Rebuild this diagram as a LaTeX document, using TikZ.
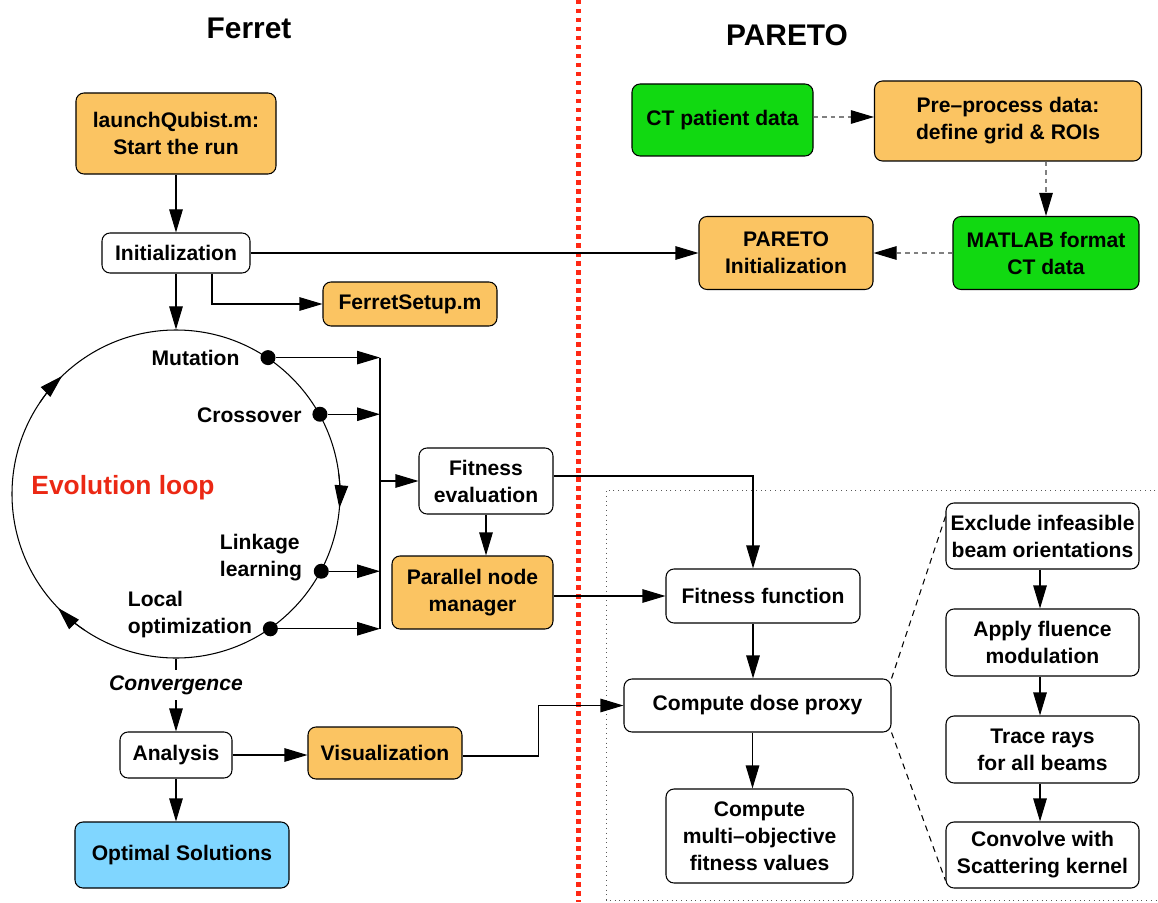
\documentclass[tikz,border=0pt]{standalone}
\usepackage{fontspec}
\setmainfont{Liberation Sans}
\usetikzlibrary{arrows.meta}
\definecolor{boxorange}{RGB}{251,196,98}
\definecolor{boxgreen}{RGB}{17,217,17}
\definecolor{boxblue}{RGB}{128,214,255}
\definecolor{loopred}{RGB}{235,40,20}
\definecolor{divred}{RGB}{255,40,20}
\begin{document}
\begin{tikzpicture}[x=0.2mm, y=0.2mm, line width=0.6pt,
    every node/.style={font=\fontsize{12}{15.4}\selectfont\bfseries},
    box/.style={draw, rounded corners=1.6mm, align=center, inner sep=0.5mm, fill=white},
    obox/.style={box, fill=boxorange},
    gbox/.style={box, fill=boxgreen},
    arr/.style={-{Triangle[length=4.6mm,width=2.7mm]}},
    darr/.style={-{Triangle[length=4.6mm,width=2.7mm,black]}, gray, dash pattern=on 0.9mm off 0.8mm},
    dot/.style={circle, fill, inner sep=0, minimum size=3mm},
    lbl/.style={inner sep=0, align=left}]
  \useasboundingbox (0,0) rectangle (1158,-902);
  % titles and divider
  \node (ferret) at (249,-28) {\fontsize{17}{20}\selectfont Ferret};
  \node (pareto) at (787,-35) {\fontsize{17}{20}\selectfont PARETO};
  \draw[divred, line width=1mm, dash pattern=on 0.9mm off 0.9mm] (578,0) -- (578,-902);
  \draw[gray!70!black, line width=0.5pt, dash pattern=on 0.5pt off 2.2pt]
    (1160,-490) -- (606,-490) -- (606,-900) -- (1160,-900);

  % Ferret side
  \node [obox, minimum width=40mm, minimum height=16.2mm] (launch) at (176,-133.5) {launchQubist.m:\\Start the run};
  \node [box, minimum width=29.6mm, minimum height=8mm] (init) at (176,-253) {Initialization};
  \node [obox, minimum width=34.8mm, minimum height=8.8mm] (fsetup) at (410,-304) {FerretSetup.m};
  \node [draw, circle, minimum size=65.6mm, inner sep=0] (loop) at (176,-494) {};
  \node [text=loopred] (evo) at (123,-488) {\fontsize{15}{18}\selectfont Evolution loop};
  \node [dot] (mutd) at (loop.56) {};
  \node [dot] (crossd) at (loop.29) {};
  \node [dot] (linkd) at (loop.-28) {};
  \node [dot] (locd) at (loop.-55) {};
  \node [lbl, anchor=east] (mutl) at (240,-358) {Mutation};
  \node [lbl, anchor=east] (crossl) at (302,-415) {Crossover};
  \node [lbl] (linkl) at (261,-558) {Linkage\\learning};
  \node [lbl] (locl) at (190,-615) {Local\\optimization};
  \coordinate (bus) at (380,-481);
  \node [box, minimum width=26.8mm, minimum height=13.2mm] (fe) at (486,-481) {Fitness\\evaluation};
  \node [obox, minimum width=32.2mm, minimum height=14.6mm] (pnm) at (472.5,-592.5) {Parallel node\\manager};
  \node [inner sep=1mm] (conv) at (176,-685) {\itshape Convergence};
  \node [box, minimum width=22.4mm, minimum height=9.2mm] (ana) at (176,-755) {Analysis};
  \node [box, fill=boxblue, minimum width=42.8mm, minimum height=13.2mm] (opt) at (182,-855) {Optimal Solutions};
  \node [obox, minimum width=30.8mm, minimum height=10.4mm] (vis) at (385,-753) {Visualization};

  % PARETO side
  \node [gbox, minimum width=36.2mm, minimum height=14.4mm] (ct) at (722.5,-120) {CT patient data};
  \node [obox, minimum width=53.4mm, minimum height=16mm] (pre) at (1008,-121) {Pre--process data:\\define grid \& ROIs};
  \node [obox, minimum width=34.8mm, minimum height=14.6mm] (pinit) at (786,-253) {PARETO\\Initialization};
  \node [gbox, minimum width=37.2mm, minimum height=14.6mm] (mat) at (1046,-253) {MATLAB format\\CT data};
  \node [box, minimum width=38.8mm, minimum height=10.8mm] (ff) at (763,-596) {Fitness function};
  \node [box, minimum width=53.4mm, minimum height=10.6mm] (cdp) at (757.5,-705.5) {Compute dose proxy};
  \node [box, minimum width=37.4mm, minimum height=18.8mm] (multi) at (759.5,-836) {Compute\\multi--objective\\fitness values};
  \node [box, minimum width=38.6mm, minimum height=13.2mm] (excl) at (1042.5,-536) {Exclude infeasible\\beam orientations};
  \node [box, minimum width=38.6mm, minimum height=13.4mm] (apply) at (1042.5,-642.5) {Apply fluence\\modulation};
  \node [box, minimum width=38.6mm, minimum height=13.4mm] (trace) at (1042.5,-749.5) {Trace rays\\for all beams};
  \node [box, minimum width=38.6mm, minimum height=13.2mm] (convk) at (1042.5,-855) {Convolve with\\Scattering kernel};

  \draw[arr] (launch.south) -- (init.north);
  \draw[arr] (init.south) -- (loop.north);
  \draw[arr] ([xshift=7.2mm]init.south) |- (fsetup.west);
  \draw[arr] (init.east) -- (pinit.west);
  \draw[arr] (loop.center) ++(146:32.8mm) arc[start angle=146, end angle=134, radius=32.8mm];
  \draw[arr] (loop.center) ++(7:32.8mm) arc[start angle=7, end angle=-5, radius=32.8mm];
  \draw[arr] (loop.center) ++(236:32.8mm) arc[start angle=236, end angle=224, radius=32.8mm];
  \draw[arr] (mutd) -- (mutd -| bus);
  \draw[arr] (crossd) -- (crossd -| bus);
  \draw[arr] (linkd) -- (linkd -| bus);
  \draw[arr] (locd) -- (locd -| bus);
  \draw (mutd -| bus) -- (locd -| bus);
  \draw[arr] (bus) -- (fe.west);
  \draw[arr] (fe.south) -- (fe.south |- pnm.north);
  \draw[arr] ([yshift=1mm]fe.east) -| ([xshift=-2mm]ff.north);
  \draw[arr] (ff.west -| pnm.east) -- (ff.west);
  \draw[arr] ([xshift=-2mm]ff.south) -- ([xshift=-2mm]ff.south |- cdp.north);
  \draw[arr] ([xshift=-1mm]cdp.south) -- ([xshift=-1mm]cdp.south |- multi.north);
  \draw (loop.south) -- (conv.north);
  \draw[arr] (conv.south) -- (ana.north);
  \draw[arr] (ana.south) -- (ana.south |- opt.north);
  \draw[arr] (ana.east) -- (ana.east -| vis.west);
  \draw[arr] ([yshift=-0.6mm]vis.east) -- ++(15.2mm,0) |- (cdp.west);
  \draw[darr] (ct.east |- 0,-117) -- (pre.west |- 0,-117);
  \draw[darr] (mat.north |- pre.south) -- (mat.north);
  \draw[darr] (mat.west) -- (pinit.east);
  \draw[dash pattern=on 1.2mm off 1mm] (cdp.north east) -- ([yshift=-2.8mm]excl.north west);
  \draw[dash pattern=on 1.2mm off 1mm] (cdp.south east) -- ([yshift=1.6mm]convk.south west);
  \draw[arr] ([xshift=-0.5mm]excl.south) -- ([xshift=-0.5mm]apply.north);
  \draw[arr] ([xshift=-0.5mm]apply.south) -- ([xshift=-0.5mm]trace.north);
  \draw[arr] ([xshift=-0.5mm]trace.south) -- ([xshift=-0.5mm]convk.north);
\end{tikzpicture}
\end{document}
